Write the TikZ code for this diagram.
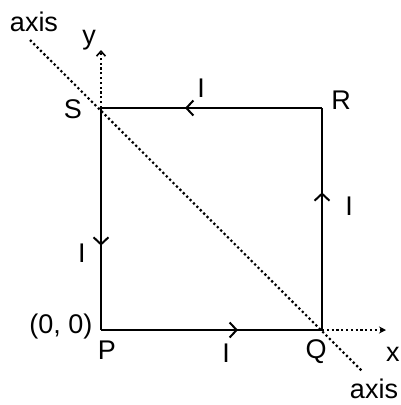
\documentclass[tikz,border=0pt]{standalone}
\usepackage{fontspec}
\setmainfont{Liberation Sans}
\usetikzlibrary{arrows.meta,decorations.markings}
\begin{document}
\begin{tikzpicture}[x=1pt,y=-1pt,
  wire/.style={line width=2.4pt},
  midarrow/.style={postaction={decorate},decoration={markings,
     mark=at position 0.62 with {\arrow{Straight Barb[length=7pt,width=15pt,line width=2pt]}}}},
  dotline/.style={line width=2.2pt,dash pattern=on 2.2pt off 2.6pt},
  lbl/.style={font=\fontsize{27}{30}\selectfont,inner sep=0pt}]
\useasboundingbox (0,0) rectangle (401,405);
\coordinate (P) at (101,330);
\coordinate (Q) at (322,330);
\coordinate (R) at (322,108);
\coordinate (S) at (101,108);
\coordinate (ax1) at (30,40);
\coordinate (ax2) at (363,372);
\coordinate (ytip) at (101,50);
\coordinate (xtip) at (386,330);
% axes
\draw[dotline] (ax1) -- (ax2);
\draw[dotline,-{Straight Barb[length=5pt,width=9pt,line width=1.6pt]}] (S) -- (ytip);
\draw[dotline,-{Stealth[length=7pt,width=7pt]}] (Q) -- (xtip);
% loop
\draw[wire,midarrow] (P) -- (Q);
\draw[wire,midarrow] (Q) -- (R);
\draw[wire,midarrow] (R) -- (S);
\draw[wire,midarrow] (S) -- (P);
% labels
\node[lbl] (laxis1) at (34,22) {axis};
\node[lbl] (ly) at (89,40) {y};
\node[lbl] (lS) at (73,109) {S};
\node[lbl] (lR) at (341,100) {R};
\node[lbl] (lItop) at (201,88) {I};
\node[lbl] (lIright) at (349,206) {I};
\node[lbl] (lIleft) at (82,253) {I};
\node[lbl] (lIbot) at (226,353) {I};
\node[lbl] (l00) at (61,327) {(0, 0)};
\node[lbl] (lP) at (107,350) {P};
\node[lbl] (lQ) at (316,352) {Q};
\node[lbl,anchor=base west] (lx) at (386,361) {x};
\node[lbl,anchor=base] (laxis2) at (374,398) {axis};
\end{tikzpicture}
\end{document}
